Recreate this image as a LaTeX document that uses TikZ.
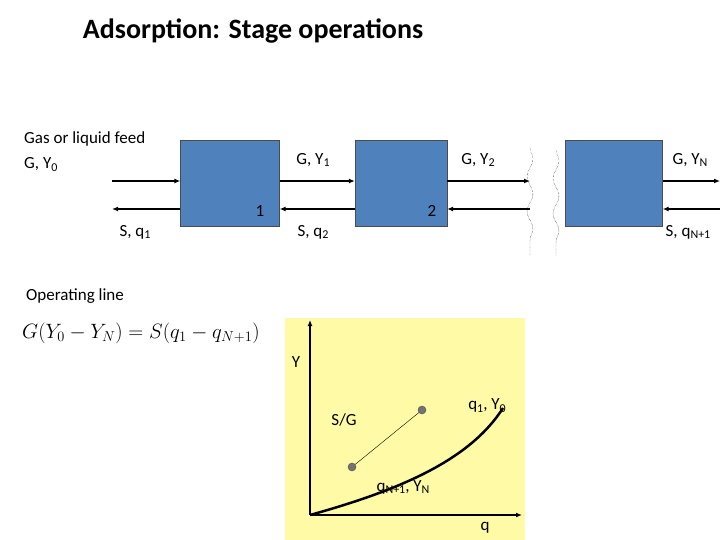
\documentclass[tikz,border=0pt]{standalone}
\usepackage{fontspec}
\setmainfont{Carlito}
\usetikzlibrary{arrows.meta,decorations.pathmorphing}
\newcommand{\lo}[1]{\raisebox{-0.35ex}{\fontsize{12}{12}\selectfont #1}}
\begin{document}
\begin{tikzpicture}[x=1pt,y=-1pt,
  stage/.style={draw=black!70,fill={rgb,255:red,79;green,129;blue,189},minimum width=99pt,minimum height=86pt,inner sep=0},
  lbl/.style={font=\fontsize{17}{20}\selectfont,inner sep=0},
  flow/.style={-{Latex[length=6pt,width=5pt]},line width=1.3pt},
  wav/.style={densely dotted,decorate,decoration={snake,amplitude=3pt,segment length=35pt}}]
\useasboundingbox (0,0) rectangle (720,540);
\node[font=\bfseries\fontsize{28}{30}\selectfont] (title) at (253,31) {Adsorption: Stage operations};
\node[lbl,anchor=west,align=left] (feed) at (24,152) {Gas or liquid feed\\[5pt]G,\ Y\lo{0}};
\node[stage] (b1) at (230,183) {};
\node[stage,minimum width=92pt] (b2) at (401,183) {};
\node[stage,minimum width=97pt] (b3) at (614,183) {};
\node[lbl] (n1) at (260,211) {1};
\node[lbl] (n2) at (432,211) {2};
\coordinate (l1) at (112,181); \coordinate (l2) at (112,209);
\coordinate (r1) at (530,181); \coordinate (r2) at (530,209);
\coordinate (e1) at (720,181); \coordinate (e2) at (720,209);
\draw[flow] (l1) -- (b1.west|-l1);
\draw[flow] (b1.west|-l2) -- (l2);
\draw[flow] (b1.east|-l1) -- (b2.west|-l1);
\draw[flow] (b2.west|-l2) -- (b1.east|-l2);
\draw[flow] (b2.east|-l1) -- (r1);
\draw[flow] (r2) -- (b2.east|-l2);
\draw[flow] (b3.east|-l1) -- (e1);
\draw[flow] (e2) -- (b3.east|-l2);
\coordinate (w1a) at (530,148); \coordinate (w1b) at (530,256);
\coordinate (w2a) at (556,150); \coordinate (w2b) at (556,256);
\draw[wav] (w1a) -- (w1b);
\draw[wav] (w2a) -- (w2b);
\node[lbl] (gy1) at (313,160) {G, Y\lo{1}};
\node[lbl] (gy2) at (478,160) {G, Y\lo{2}};
\node[lbl] (gyn) at (690,160) {G, Y\lo{N}};
\node[lbl] (sq1) at (135,232) {S, q\lo{1}};
\node[lbl] (sq2) at (313,232) {S, q\lo{2}};
\node[lbl] (sqn) at (688,232) {S, q\lo{N+1}};
\node[lbl,anchor=west] (op) at (26,296) {Operating line};
\node[font=\fontsize{22.5}{24}\selectfont,inner sep=0] (eq) at (141,333) {$G(Y_0-Y_N)=S(q_1-q_{N+1})$};
\fill[yellow!35!white] (285,318) rectangle (525,540);
\coordinate (o) at (310,515);
\coordinate (ytop) at (310,320);
\coordinate (xend) at (522,515);
\draw[-{Latex[length=6pt,width=5pt]},line width=1.3pt] (o) -- (ytop);
\draw[-{Latex[length=6pt,width=5pt]},line width=1.3pt] (o) -- (xend);
\coordinate (c1) at (503,408);
\draw[line width=2.5pt] (o) .. controls (400,490) and (470,460) .. (c1);
\node[circle,fill=black!55,draw=black!70,inner sep=0,minimum size=8pt] (p1) at (352,467) {};
\node[circle,fill=black!55,draw=black!70,inner sep=0,minimum size=8pt] (p2) at (422,410) {};
\draw[thin] (p1) -- (p2);
\node[lbl] (ly) at (296,362) {Y};
\node[lbl] (sg) at (344,420) {S/G};
\node[lbl] (q1y0) at (487,406) {q\lo{1}, Y\lo{0}};
\node[lbl] (qnyn) at (403,487) {q\lo{N+1}, Y\lo{N}};
\node[lbl] (lq) at (485,528) {q};
\end{tikzpicture}
\end{document}
